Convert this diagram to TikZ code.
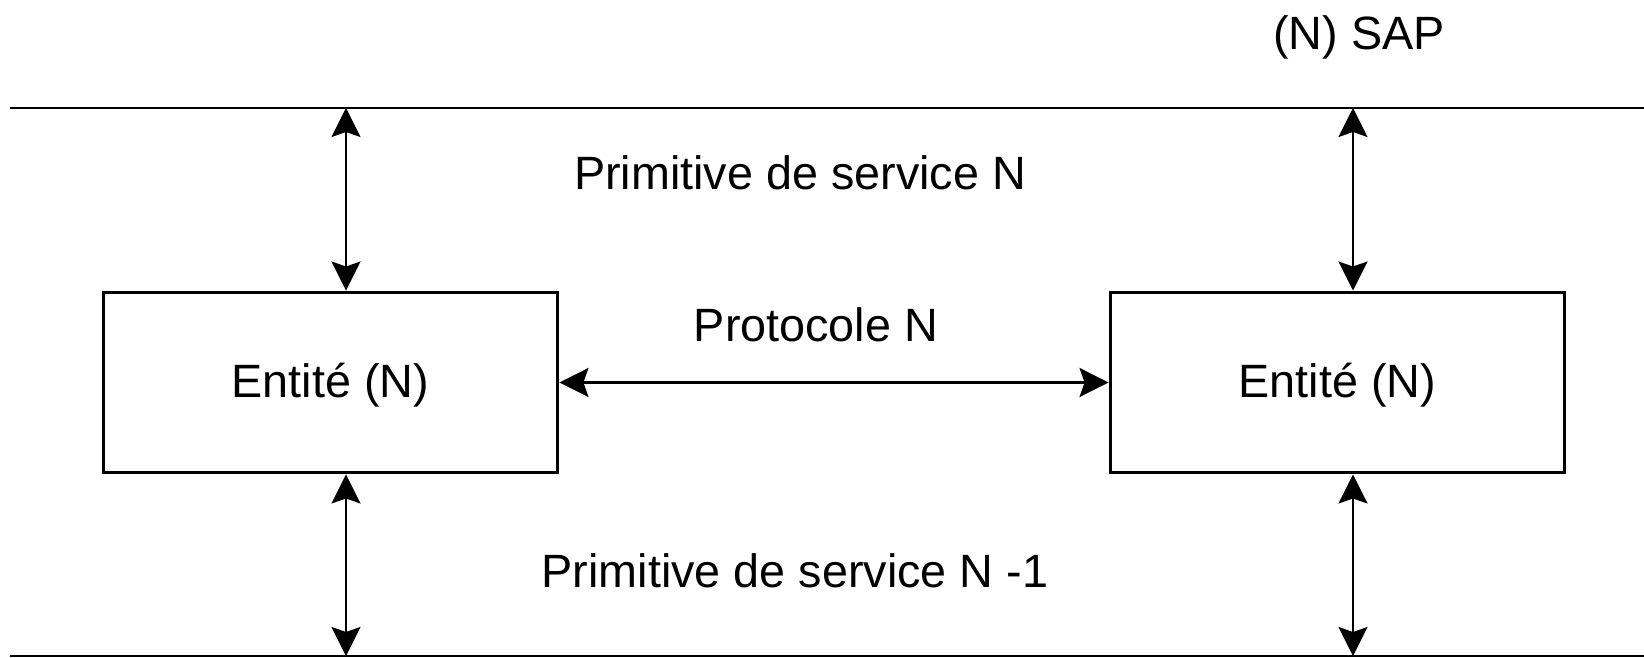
\documentclass[tikz,border=0pt]{standalone}
\usepackage{fontspec}
\setmainfont{Liberation Sans}
\usetikzlibrary{arrows.meta,positioning}

\newcommand{\dfont}{\fontsize{26.6}{32}\selectfont}

\begin{document}
\begin{tikzpicture}[
  x=0.02cm, y=-0.02cm,
  entity/.style={draw, line width=1.7pt, minimum width=9.1cm, minimum height=3.62cm,
    text height=0.62cm, text depth=0pt, font=\dfont},
  layer/.style={line width=1.7pt},
  arr/.style={<->, >={Stealth[length=5.8mm,width=5.8mm,inset=1mm]}, line width=1.4pt},
  lbl/.style={anchor=base, inner sep=0pt, font=\dfont}
]
\useasboundingbox (0,0) rectangle (1644,658);
% the two layer boundaries
\coordinate (topL) at (10,108);
\coordinate (topR) at (1644,108);
\coordinate (botL) at (10,656);
\coordinate (botR) at (1644,656);
\draw[layer] (topL) -- (topR);
\draw[layer] (botL) -- (botR);
% entities
\node[entity] (entA) at (330.5,382.5) {Entit\'e (N)};
\node[entity] (entB) at (1337.5,382.5) {Entit\'e (N)};
% service access points
\coordinate (sapA) at (346,108);
\coordinate (sapB) at (1353,108);
\coordinate (lowA) at (346,656);
\coordinate (lowB) at (1353,656);
\draw[arr] (sapA) -- (sapA |- entA.north);
\draw[arr] (sapB) -- (sapB |- entB.north);
\draw[arr] (lowA |- entA.south) -- (lowA);
\draw[arr] (lowB |- entB.south) -- (lowB);
\draw[arr] (entA) -- (entB);
% labels
\node[lbl] (sap) at (1359,50) {(N) SAP};
\node[lbl] (primN) at (800,190) {Primitive de service N};
\node[lbl] (proto) at (816,342) {Protocole N};
\node[lbl] (primNm) at (795,587) {Primitive de service N -1};
\end{tikzpicture}
\end{document}
